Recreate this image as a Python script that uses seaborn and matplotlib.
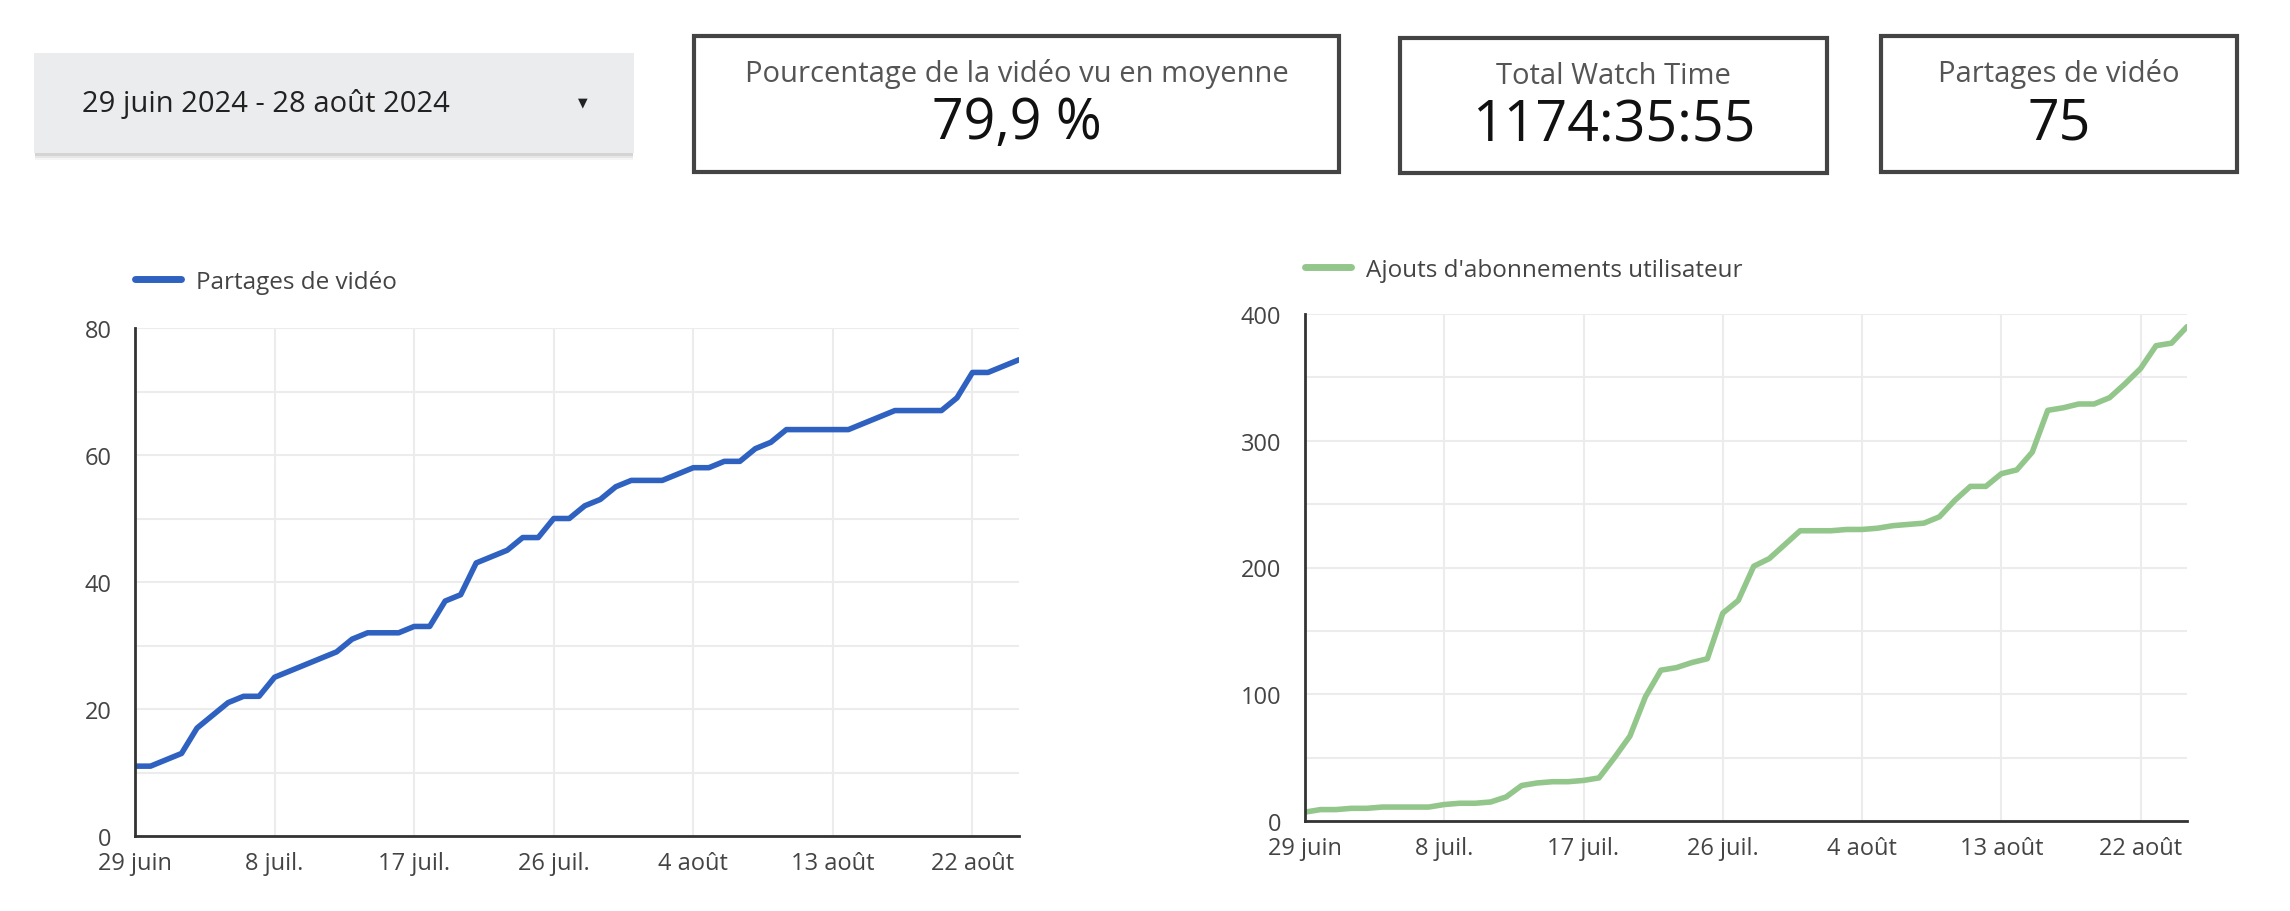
import matplotlib
matplotlib.use('Agg')
import matplotlib.pyplot as plt
import matplotlib.patches as mpatches
import numpy
import pandas
import seaborn as sns

# data
dates = pandas.date_range('2024-06-29', '2024-08-25', freq='D')
partages = [11, 11, 12, 13, 17, 19, 21, 22, 22, 25,
            26, 27, 28, 29, 31, 32, 32, 32, 33, 33,
            37, 38, 43, 44, 45, 47, 47, 50, 50, 52,
            53, 55, 56, 56, 56, 57, 58, 58, 59, 59,
            61, 62, 64, 64, 64, 64, 64, 65, 66, 67,
            67, 67, 67, 69, 73, 73, 74, 75]
abonnements = [7, 9, 9, 10, 10, 11, 11, 11, 11, 13,
               14, 14, 15, 19, 28, 30, 31, 31, 32, 34,
               50, 67, 98, 119, 121, 125, 128, 164, 174, 201,
               207, 218, 229, 229, 229, 230, 230, 231, 233, 234,
               235, 240, 253, 264, 264, 274, 277, 291, 324, 326,
               329, 329, 334, 345, 357, 375, 377, 390]

tick_dates = pandas.to_datetime(['2024-06-29', '2024-07-08', '2024-07-17', '2024-07-26',
                                 '2024-08-04', '2024-08-13', '2024-08-22'])
tick_labels = ['29 juin', '8 juil.', '17 juil.', '26 juil.', '4 août', '13 août', '22 août']

date_range_label = '29 juin 2024 - 28 août 2024'
kpi_titles = ['Pourcentage de la vidéo vu en moyenne', 'Total Watch Time', 'Partages de vidéo']
kpi_values = ['79,9 %', '1174:35:55', '75']

df = pandas.DataFrame({'date': dates, 'Partages de vidéo': partages,
                       "Ajouts d'abonnements utilisateur": abonnements})

sns.set_theme(style='whitegrid')
plt.rcParams['font.family'] = ['Open Sans', 'DejaVu Sans']

W, H = 2290, 912
fig = plt.figure(figsize=[W / 100, H / 100], dpi=100)

# background layer in pixel coordinates for the header widgets
bg = fig.add_axes([0, 0, 1, 1])
bg.set_xlim(0, W)
bg.set_ylim(H, 0)
bg.axis('off')

# date dropdown with a soft shadow
for off, a in [(7, 0.08), (5, 0.12), (3, 0.2)]:
    bg.add_patch(mpatches.Rectangle((34 + 1, 54 + off), 598, 100, facecolor='#8a8a8a', alpha=a,
                                    edgecolor='none'))
bg.add_patch(mpatches.Rectangle((34, 54), 600, 100, facecolor='#ebecee', edgecolor='none'))
bg.text(82, 104, date_range_label, fontsize=21, color='#222222', va='center', ha='left')
bg.text(583, 103, '▼', fontsize=9, color='#222222', va='center', ha='center',
        family=['DejaVu Sans'])

# kpi boxes
boxes = [(694, 37, 645, 136), (1400, 39, 427, 135), (1881, 37, 356, 136)]
for (x, y, w, h), title, value in zip(boxes, kpi_titles, kpi_values):
    bg.add_patch(mpatches.Rectangle((x, y), w, h, facecolor='white', edgecolor='#444444',
                                    linewidth=3))
    bg.text(x + w / 2, y + 37, title, fontsize=21, color='#555555', ha='center', va='center')
    bg.text(x + w / 2, y + 88, value, fontsize=40, color='#111111', ha='center', va='center')


def draw_chart(rect, column, color, ymax, major, minor, legend_xy):
    ax = fig.add_axes(rect)
    sns.lineplot(data=df, x='date', y=column, ax=ax, color=color, linewidth=4,
                 label=column)
    ax.set_xlim(dates[0], dates[-1])
    ax.set_ylim(0, ymax)
    ax.set_yticks(numpy.arange(0, ymax + 1, major))
    ax.set_yticks(numpy.arange(minor, ymax, major), minor=True)
    ax.set_xticks(tick_dates)
    ax.set_xticklabels(tick_labels)
    ax.set_xlabel('')
    ax.set_ylabel('')
    ax.grid(True, which='both', color='#ececec', linewidth=1.5)
    ax.tick_params(axis='both', which='both', length=0, labelsize=17, colors='#444444')
    ax.tick_params(axis='y', pad=17)
    ax.tick_params(axis='x', pad=11)
    for s in ['top', 'right']:
        ax.spines[s].set_visible(False)
    for s in ['left', 'bottom']:
        ax.spines[s].set_color('#333333')
        ax.spines[s].set_linewidth(2)
    ax.set_facecolor('white')
    ax.legend(loc='center left', bbox_to_anchor=legend_xy, bbox_transform=fig.transFigure,
              frameon=False, fontsize=17.5, handlelength=1.9, handletextpad=0.6,
              borderpad=0, borderaxespad=0, labelcolor='#444444')
    for h in ax.get_legend().get_lines():
        h.set_linewidth(5)
    return ax


draw_chart([135 / W, 1 - 837 / H, 884 / W, 508 / H], 'Partages de vidéo', '#2f62c0',
           80, 20, 10, (135 / W, 1 - 283 / H))
draw_chart([1305 / W, 1 - 822 / H, 882 / W, 507 / H], "Ajouts d'abonnements utilisateur",
           '#93c68b', 400, 100, 50, (1305 / W, 1 - 271 / H))

plt.savefig('out.png', dpi=100)
